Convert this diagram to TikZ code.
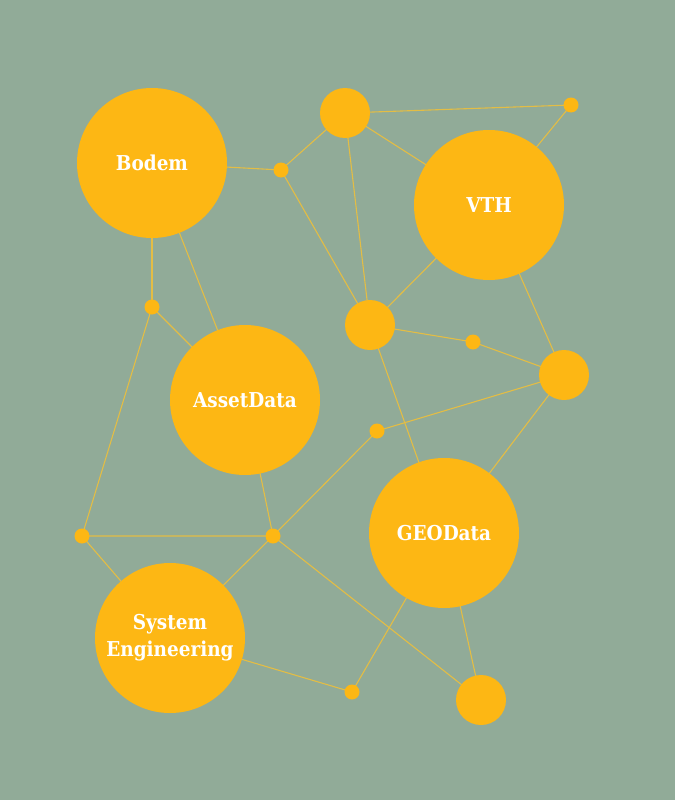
\documentclass[tikz,border=0pt]{standalone}
\usepackage{fontspec}
\newfontfamily\labelfont{DejaVu Serif Condensed}
\definecolor{bg}{HTML}{91AB98}
\definecolor{blob}{HTML}{FDB714}
\definecolor{link}{HTML}{E3BD45}
\begin{document}
\begin{tikzpicture}[x=1pt,y=-1pt,
  big/.style={circle,fill=blob,minimum size=150pt,inner sep=0pt,text=white,font=\labelfont\bfseries\fontsize{20.5}{27}\selectfont,align=center},
  mid/.style={circle,fill=blob,minimum size=50pt,inner sep=0pt},
  dot/.style={circle,fill=blob,minimum size=15pt,inner sep=0pt},
  link/.style={draw=link,line width=1.1pt}]
\fill[bg] (0,0) rectangle (675,800);
\useasboundingbox (0,0) rectangle (675,800);
% coordinates
\coordinate (bodem) at (152,163);
\coordinate (vth) at (489,205);
\coordinate (asset) at (245,400);
\coordinate (geo) at (444,533);
\coordinate (sys) at (170,638);
\coordinate (m1) at (345,113);
\coordinate (m2) at (370,325);
\coordinate (m3) at (564,375);
\coordinate (m4) at (481,700);
\coordinate (d1) at (281,170);
\coordinate (d2) at (571,105);
\coordinate (d3) at (152,307);
\coordinate (d4) at (473,342);
\coordinate (d5) at (377,431);
\coordinate (d6) at (82,536);
\coordinate (d7) at (273,536);
\coordinate (d8) at (352,692);
% connectors
\draw[link] (bodem) -- (d1) -- (m1) -- (d2) -- (vth);
\draw[link] (m1) -- (vth);
\draw[link] (d1) -- (m2);
\draw[link] (m1) -- (m2);
\draw[link] (vth) -- (m2);
\draw[link] (m2) -- (d4) -- (m3);
\draw[link] (vth) -- (m3);
\draw[link] (m2) -- (geo);
\draw[link] (m3) -- (geo);
\draw[link] (m3) -- (d5) -- (d7);
\draw[link] (bodem) -- (d3);
\draw[link] (bodem) -- (asset);
\draw[link] (d3) -- (asset);
\draw[link] (d3) -- (d6) -- (d7);
\draw[link] (d6) -- (sys);
\draw[link] (asset) -- (d7);
\draw[link] (d7) -- (sys);
\draw[link] (d7) -- (m4);
\draw[link] (sys) -- (d8) -- (geo);
\draw[link] (geo) -- (m4);
% nodes
\node[big] (nbodem) at (bodem) {Bodem};
\node[big] (nvth) at (vth) {VTH};
\node[big] (nasset) at (asset) {AssetData};
\node[big] (ngeo) at (geo) {GEOData};
\node[big] (nsys) at (sys) {System\\Engineering};
\node[mid] (nm1) at (m1) {};
\node[mid] (nm2) at (m2) {};
\node[mid] (nm3) at (m3) {};
\node[mid] (nm4) at (m4) {};
\node[dot] (nd1) at (d1) {};
\node[dot] (nd2) at (d2) {};
\node[dot] (nd3) at (d3) {};
\node[dot] (nd4) at (d4) {};
\node[dot] (nd5) at (d5) {};
\node[dot] (nd6) at (d6) {};
\node[dot] (nd7) at (d7) {};
\node[dot] (nd8) at (d8) {};
\end{tikzpicture}
\end{document}
